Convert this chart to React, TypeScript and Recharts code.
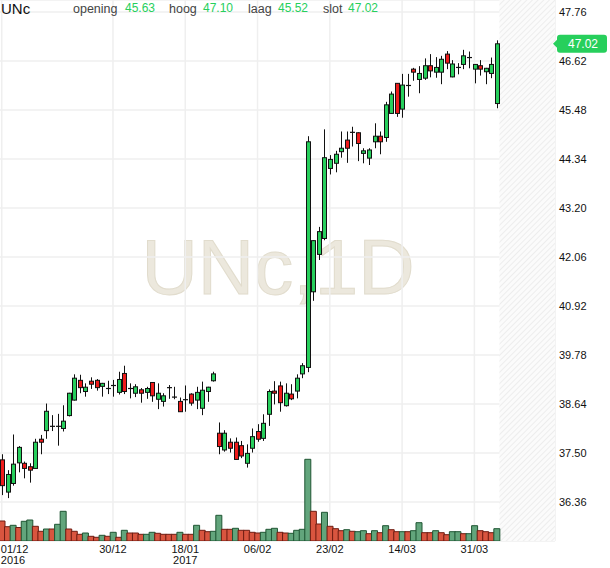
import React from 'react';
import {
  ComposedChart,
  Bar,
  XAxis,
  YAxis,
  CartesianGrid,
  ReferenceArea,
  ReferenceLine,
  Cell,
} from 'recharts';

// ---------- data ----------
const symbol = 'UNc';
const period = '1D';

const dates = [
  '01/12', '02/12', '05/12', '06/12', '07/12', '08/12', '09/12', '12/12', '13/12', '14/12',
  '15/12', '16/12', '19/12', '20/12', '21/12', '22/12', '23/12', '27/12', '28/12', '29/12',
  '30/12', '02/01', '03/01', '04/01', '05/01', '06/01', '09/01', '10/01', '11/01', '12/01',
  '13/01', '16/01', '17/01', '18/01', '19/01', '20/01', '23/01', '24/01', '25/01', '26/01',
  '27/01', '30/01', '31/01', '01/02', '02/02', '03/02', '06/02', '07/02', '08/02', '09/02',
  '10/02', '13/02', '14/02', '15/02', '16/02', '17/02', '20/02', '21/02', '22/02', '23/02',
  '24/02', '27/02', '28/02', '01/03', '02/03', '03/03', '06/03', '07/03', '08/03', '09/03',
  '10/03', '13/03', '14/03', '15/03', '16/03', '17/03', '20/03', '21/03', '22/03', '23/03',
  '24/03', '27/03', '28/03', '29/03', '30/03', '31/03', '03/04', '04/04', '05/04', '06/04',
];
const futureDates = ['07/04', '10/04', '11/04', '12/04', '13/04', '18/04', '19/04', '20/04', '21/04', '24/04'];

const opens = [
  37.34, 36.59, 36.79, 37.27, 37.26, 37.18, 37.14, 37.82, 38.02, 38.12,
  38.12, 38.07, 38.37, 38.73, 39.19, 38.93, 39.17, 39.19, 39.05, 39.0,
  39.07, 38.91, 39.35, 39.0, 38.89, 38.97, 38.91, 39.14, 38.75, 38.7,
  39.02, 38.8, 38.7, 38.74, 38.87, 38.73, 38.54, 38.93, 39.18, 37.96,
  37.57, 37.75, 37.75, 37.67, 37.26, 37.61, 38.0, 37.84, 38.4, 38.94,
  39.06, 38.6, 38.87, 38.94, 39.34, 39.49, 41.25, 42.12, 42.49, 44.12,
  44.24, 44.51, 44.78, 44.96, 44.95, 44.47, 44.36, 44.74, 44.87, 44.84,
  45.4, 46.1, 45.5, 46.05, 46.43, 46.19, 46.22, 46.51, 46.36, 46.36,
  46.78, 46.25, 46.47, 46.54, 46.7, 46.43, 46.51, 46.37, 46.33, 45.63,
];
const highs = [
  37.47, 37.1, 37.93, 37.66, 37.3, 37.26, 37.83, 37.92, 38.65, 38.38,
  38.41, 38.61, 38.9, 39.33, 39.32, 39.12, 39.26, 39.22, 39.13, 39.18,
  39.2, 39.39, 39.53, 39.12, 39.1, 39.01, 39.04, 39.15, 39.12, 38.89,
  39.08, 39.04, 38.79, 39.07, 38.89, 39.04, 39.16, 39.04, 39.39, 38.21,
  38.03, 37.84, 37.86, 37.78, 37.7, 38.07, 38.17, 38.4, 38.98, 39.17,
  39.16, 39.12, 39.1, 39.33, 39.59, 44.87, 42.45, 42.76, 45.03, 44.43,
  44.53, 44.98, 44.98, 45.09, 44.96, 44.59, 44.59, 45.17, 44.98, 45.67,
  45.91, 46.1, 46.32, 46.32, 46.46, 46.5, 46.68, 46.78, 46.71, 46.74,
  46.85, 46.64, 46.57, 46.88, 46.84, 46.55, 46.64, 46.46, 46.7, 47.1,
];
const lows = [
  36.52, 36.45, 36.74, 37.05, 36.91, 36.81, 37.13, 37.47, 37.83, 38.01,
  37.67, 38.0, 38.35, 38.72, 38.89, 38.81, 38.99, 38.95, 38.81, 38.87,
  38.81, 38.86, 38.87, 38.77, 38.8, 38.67, 38.76, 38.69, 38.52, 38.58,
  38.76, 38.75, 38.46, 38.46, 38.6, 38.52, 38.38, 38.69, 39.16, 37.47,
  37.53, 37.51, 37.35, 37.38, 37.16, 37.51, 37.76, 37.78, 38.13, 38.63,
  38.46, 38.58, 38.73, 38.77, 39.24, 39.38, 41.04, 41.99, 42.45, 43.98,
  44.03, 44.37, 44.25, 44.63, 44.29, 44.24, 44.2, 44.59, 44.45, 44.74,
  45.39, 45.32, 45.3, 45.79, 46.16, 45.87, 46.18, 46.24, 46.23, 46.08,
  46.43, 46.24, 46.31, 46.43, 46.45, 46.1, 46.28, 46.08, 46.22, 45.52,
];
const closes = [
  36.74, 37.0, 37.24, 37.63, 37.14, 37.1, 37.75, 37.75, 38.47, 38.12,
  38.12, 38.24, 38.89, 39.24, 39.02, 39.03, 39.1, 39.02, 39.12, 39.0,
  39.07, 39.21, 38.93, 39.0, 39.04, 38.89, 39.0, 38.83, 38.89, 38.83,
  39.02, 38.8, 38.46, 38.74, 38.66, 38.91, 38.96, 39.03, 39.34, 37.65,
  37.96, 37.61, 37.35, 37.43, 37.49, 37.88, 37.82, 38.19, 38.93, 38.89,
  38.67, 38.89, 38.76, 39.24, 39.53, 44.74, 42.44, 42.65, 44.37, 44.33,
  44.45, 44.59, 44.59, 44.96, 44.7, 44.53, 44.55, 44.87, 44.74, 45.6,
  45.85, 45.4, 46.06, 46.05, 46.36, 46.33, 46.51, 46.39, 46.47, 46.66,
  46.57, 46.55, 46.47, 46.74, 46.7, 46.54, 46.43, 46.45, 46.54, 47.02,
];
// volume in millions
const volumes = [
  4.0, 2.86, 3.14, 2.7, 3.94, 4.2, 2.94, 1.94, 2.4, 2.4,
  3.34, 5.94, 2.4, 1.94, 1.34, 1.6, 0.94, 0.74, 1.14, 0.94,
  1.74, 0.74, 2.14, 1.6, 1.6, 1.34, 1.34, 1.74, 1.54, 1.34,
  1.34, 1.34, 1.74, 1.34, 1.34, 3.14, 2.14, 1.86, 1.94, 5.14,
  2.34, 2.34, 2.54, 2.14, 2.14, 1.74, 1.6, 1.74, 2.34, 2.54,
  1.74, 1.6, 1.54, 2.14, 2.34, 16.34, 5.94, 3.4, 5.74, 2.94,
  2.46, 2.06, 2.26, 1.94, 1.86, 2.06, 1.46, 2.06, 1.66, 3.06,
  2.26, 1.86, 1.86, 1.86, 2.06, 3.66, 1.66, 1.66, 2.06, 1.66,
  1.26, 1.86, 1.86, 1.46, 1.46, 3.06, 2.06, 1.86, 1.66, 2.46,
];
// 1 = rising volume bar (green), 0 = falling (red)
const volumeUp = [
  0, 0, 1, 0, 1, 1, 0, 0, 1, 0,
  1, 1, 0, 0, 0, 1, 0, 0, 1, 0,
  1, 0, 1, 0, 0, 0, 1, 1, 0, 0,
  0, 0, 1, 0, 0, 1, 0, 0, 1, 1,
  0, 0, 1, 0, 0, 0, 0, 1, 1, 1,
  0, 0, 1, 1, 1, 1, 0, 0, 1, 0,
  0, 0, 1, 0, 1, 1, 0, 1, 0, 1,
  0, 0, 1, 0, 1, 1, 0, 0, 1, 0,
  0, 1, 1, 0, 1, 1, 0, 0, 0, 1,
];

const dateTicks = ['01/12', '30/12', '18/01', '06/02', '23/02', '14/03', '31/03'];
const yearLabels: Record<string, string> = { '01/12': '2016', '18/01': '2017' };
const priceTicks = [36.36, 37.5, 38.64, 39.78, 40.92, 42.06, 43.2, 44.34, 45.48, 46.62, 47.76];
const priceDomain = [35.452, 48.039];
const volumeDomain = [0, 108.2];
const headerLabels = ['opening', 'hoog', 'laag', 'slot'];

// ---------- styles ----------
const FONT = '"Liberation Sans", Arial, sans-serif';
const UP = '#27cf5c';
const DOWN = '#ee1b1b';
const VOL_UP = '#62a57c';
const VOL_UP_EDGE = '#1f5533';
const VOL_DOWN = '#d9553f';
const VOL_DOWN_EDGE = '#6e1c12';
const GRID = '#efefef';

const data = [
  ...dates.map((d, i) => ({
    d,
    o: opens[i],
    h: highs[i],
    l: lows[i],
    c: closes[i],
    range: [lows[i], highs[i]],
    v: volumes[i],
    up: volumeUp[i],
  })),
  ...futureDates.map((d) => ({ d })),
];

const last = dates.length - 1;
const headerValues = [opens[last], highs[last], lows[last], closes[last]];

const Candle = (props: any) => {
  const { x, y, width, height, payload } = props;
  if (!payload || payload.o == null || x == null) return null;
  const top = Math.min(y, y + height);
  const bot = Math.max(y, y + height);
  const { o, h, l, c } = payload;
  const ppu = (bot - top) / (h - l);
  const yOf = (v: number) => top + (h - v) * ppu;
  const cx = Math.round(x + width / 2);
  const yo = yOf(o);
  const yc = yOf(c);
  const bTop = Math.min(yo, yc);
  const bBot = Math.max(yo, yc);
  const up = c >= o;
  const wx = cx + 0.5;
  return (
    <g>
      <line x1={wx} x2={wx} y1={top} y2={bot} stroke="#111" strokeWidth={1} />
      {bBot - bTop < 1.2 ? (
        <line x1={cx - 2} x2={cx + 3} y1={(bTop + bBot) / 2} y2={(bTop + bBot) / 2} stroke="#111" strokeWidth={1.2} />
      ) : (
        <rect
          x={cx - 1.5}
          y={bTop}
          width={4}
          height={bBot - bTop}
          fill={up ? UP : DOWN}
          stroke="#111"
          strokeWidth={1}
        />
      )}
    </g>
  );
};

const DateTick = (props: any) => {
  const { x, y, payload } = props;
  const v = payload.value;
  const isFirst = v === dateTicks[0];
  const tx = isFirst ? 1 + (x - x) : x;
  const anchor = isFirst ? 'start' : 'middle';
  const year = yearLabels[v];
  return (
    <g>
      <text x={isFirst ? x - 1 : tx} y={y + 4} textAnchor={anchor} fontSize={11} fontFamily={FONT} fill="#111">
        {v}
      </text>
      {year ? (
        <text x={isFirst ? x - 1 : tx} y={y + 15} textAnchor={anchor} fontSize={11} fontFamily={FONT} fill="#111">
          {year}
        </text>
      ) : null}
    </g>
  );
};

const PriceTick = (props: any) => {
  const { x, y, payload } = props;
  return (
    <text x={x - 4} y={y + 4} textAnchor="start" fontSize={11} fontFamily={FONT} fill="#111">
      {Number(payload.value).toFixed(2)}
    </text>
  );
};

const Badge = (props: any) => {
  const vb = props.viewBox || {};
  const bx = (vb.x || 0) + (vb.width || 0) + 2;
  const by = vb.y || 0;
  return (
    <g>
      <polygon points={`${bx - 4},${by} ${bx + 1},${by - 5} ${bx + 1},${by + 5}`} fill={UP} />
      <rect x={bx} y={by - 9} width={50} height={18} rx={3} ry={3} fill={UP} />
      <text x={bx + 26} y={by + 4.5} textAnchor="middle" fontSize={12} fontFamily={FONT} fill="#fff">
        {closes[last].toFixed(2)}
      </text>
    </g>
  );
};

export default function App() {
  const headerX = [73, 169, 248, 323];
  const valueX = [125, 203, 278, 348];
  return (
    <div style={{ position: 'absolute', left: 0, top: 0, width: 610, height: 568, background: '#fff', overflow: 'hidden' }}>
      <svg width={610} height={568} style={{ position: 'absolute', left: 0, top: 0 }}>
        <text
          x={278}
          y={294}
          textAnchor="middle"
          fontSize={78}
          fontFamily={FONT}
          fill="#ece8dd"
          stroke="#e1dccd"
          strokeWidth={1}
        >
          {`${symbol},${period}`}
        </text>
      </svg>
      <div style={{ position: 'absolute', left: 0, top: 0 }}>
        <ComposedChart
          width={610}
          height={568}
          data={data}
          margin={{ top: 0, right: 0, bottom: 0, left: -1 }}
          barCategoryGap={0}
          barGap={0}
        >
          <defs>
            <pattern id="hatch" patternUnits="userSpaceOnUse" width={4} height={4} patternTransform="rotate(45)">
              <rect width={4} height={4} fill="#fbfbfb" />
              <line x1={0} y1={0} x2={0} y2={4} stroke="#e9e9e9" strokeWidth={1.5} />
            </pattern>
          </defs>
          <CartesianGrid xAxisId="c" yAxisId="p" stroke={GRID} strokeWidth={1.5} />
          <ReferenceArea
            xAxisId="c"
            yAxisId="p"
            x1={futureDates[0]}
            fill="url(#hatch)"
            fillOpacity={1}
            stroke="none"
            ifOverflow="visible"
          />
          <XAxis
            xAxisId="c"
            dataKey="d"
            type="category"
            ticks={dateTicks}
            interval={0}
            height={27}
            axisLine={false}
            tickLine={false}
            tick={<DateTick />}
          />
          <XAxis xAxisId="v" dataKey="d" type="category" hide />
          <YAxis
            yAxisId="p"
            orientation="right"
            type="number"
            width={55}
            domain={priceDomain}
            ticks={priceTicks}
            allowDataOverflow
            axisLine={false}
            tickLine={false}
            tick={<PriceTick />}
          />
          <YAxis yAxisId="vol" type="number" domain={volumeDomain} allowDataOverflow hide />
          <Bar xAxisId="v" yAxisId="vol" dataKey="v" isAnimationActive={false}>
            {data.map((r: any, i) => (
              <Cell
                key={i}
                fill={r.up ? VOL_UP : VOL_DOWN}
                stroke={r.up ? VOL_UP_EDGE : VOL_DOWN_EDGE}
                strokeWidth={1}
              />
            ))}
          </Bar>
          <Bar xAxisId="c" yAxisId="p" dataKey="range" shape={Candle} isAnimationActive={false} />
          <ReferenceLine
            xAxisId="c"
            yAxisId="p"
            y={closes[last]}
            stroke="none"
            label={(p: any) => <Badge {...p} />}
          />
        </ComposedChart>
      </div>
      <svg width={610} height={30} style={{ position: 'absolute', left: 0, top: 0, pointerEvents: 'none' }}>
        <text x={1} y={14} fontSize={15} fontFamily={FONT} fill="#111">
          {symbol}
        </text>
        {headerLabels.map((lab, i) => (
          <g key={lab}>
            <text x={headerX[i]} y={13} fontSize={12.5} fontFamily={FONT} fill="#444">
              {lab}
            </text>
            <text x={valueX[i]} y={11.5} fontSize={12} fontFamily={FONT} fill={UP}>
              {headerValues[i].toFixed(2)}
            </text>
          </g>
        ))}
      </svg>
    </div>
  );
}
